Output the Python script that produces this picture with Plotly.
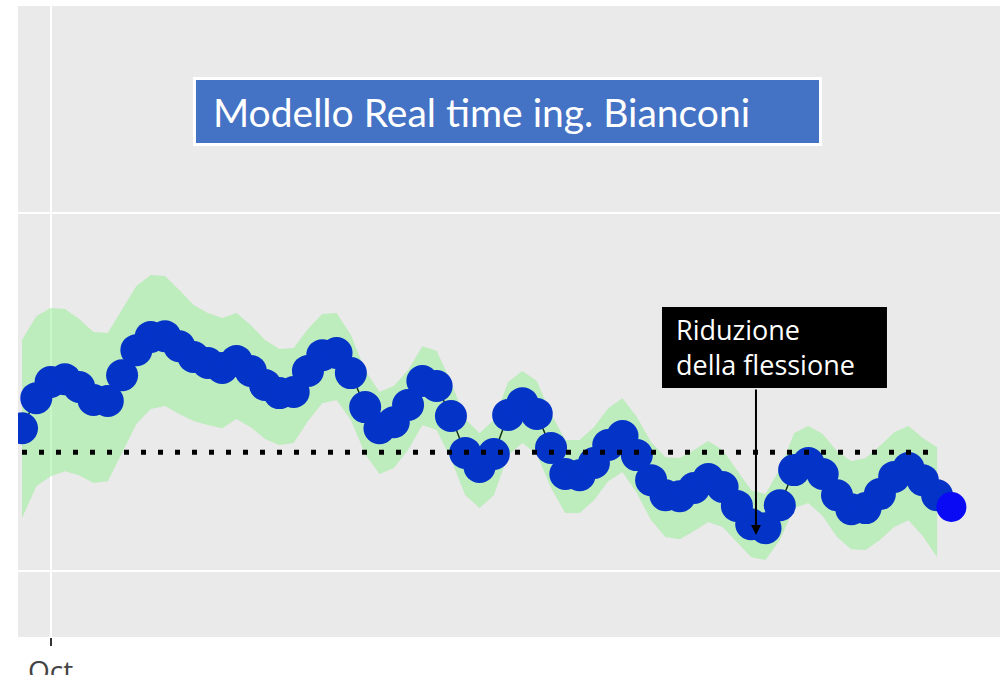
import pandas as pd
import plotly.graph_objects as go

# giorni di misura (giornalieri)
giorni = pd.date_range("2020-09-29", periods=66, freq="D")

# flessione misurata (modello real time)
flessione = [13.99, 14.83, 15.28, 15.36, 15.14, 14.78, 14.75, 15.47, 16.17, 16.54,
             16.56, 16.28, 15.98, 15.81, 15.67, 15.87, 15.59, 15.20, 14.97, 15.00,
             15.59, 16.03, 16.09, 15.53, 14.58, 13.99, 14.16, 14.64, 15.31, 15.17,
             14.33, 13.30, 12.91, 13.27, 14.36, 14.69, 14.39, 13.44, 12.71, 12.68,
             13.02, 13.52, 13.77, 13.24, 12.54, 12.12, 12.09, 12.32, 12.57, 12.35,
             11.82, 11.31, 11.20, 11.84, 12.82, 13.02, 12.71, 12.12, 11.73, 11.76,
             12.15, 12.63, 12.88, 12.54, 12.12]
ultimo = [11.79]

# banda di confidenza
banda_sup = [16.45, 17.12, 17.35, 17.32, 17.04, 16.68, 16.65, 17.32, 17.96, 18.27,
             18.24, 17.85, 17.43, 17.21, 17.07, 17.21, 16.87, 16.45, 16.20, 16.23,
             16.76, 17.18, 17.21, 16.59, 15.61, 15.00, 15.17, 15.61, 16.28, 16.15,
             15.28, 14.25, 13.85, 14.22, 15.28, 15.59, 15.31, 14.39, 13.66, 13.66,
             14.02, 14.55, 14.83, 14.30, 13.60, 13.18, 13.16, 13.38, 13.63, 13.38,
             12.82, 12.26, 12.15, 12.85, 13.85, 14.05, 13.83, 13.35, 13.07, 13.16,
             13.49, 13.88, 14.05, 13.72, 13.46]
banda_inf = [11.48, 12.37, 12.65, 12.79, 12.68, 12.46, 12.51, 13.30, 14.11, 14.53,
             14.61, 14.39, 14.19, 14.08, 13.99, 14.25, 14.02, 13.69, 13.52, 13.58,
             14.19, 14.69, 14.78, 14.22, 13.27, 12.71, 12.88, 13.38, 14.08, 13.94,
             13.13, 12.12, 11.76, 12.12, 13.24, 13.58, 13.27, 12.32, 11.62, 11.62,
             11.98, 12.51, 12.77, 12.18, 11.42, 10.95, 10.89, 11.12, 11.37, 11.23,
             10.81, 10.39, 10.31, 10.87, 11.76, 11.90, 11.54, 10.95, 10.61, 10.59,
             10.87, 11.23, 11.42, 10.98, 10.39]

soglia = 13.32

tick_date = ["2020-10-01"]
tick_text = ["Oct"]

n = len(flessione)
x_main = giorni[:n]

fig = go.Figure()
fig.add_trace(go.Scatter(x=x_main, y=banda_inf, mode="lines", line=dict(width=0),
                         hoverinfo="skip"))
fig.add_trace(go.Scatter(x=x_main, y=banda_sup, mode="lines", line=dict(width=0),
                         fill="tonexty", fillcolor="rgba(144,238,144,0.5)",
                         hoverinfo="skip"))
fig.add_trace(go.Scatter(x=x_main, y=flessione, mode="lines+markers",
                         line=dict(color="#143014", width=1.5),
                         marker=dict(size=32, color="#0433C8")))
fig.add_trace(go.Scatter(x=giorni[n:], y=ultimo, mode="markers",
                         marker=dict(size=30, color="#0A0AF5")))
fig.add_trace(go.Scatter(x=[x_main[0], x_main[-1]], y=[soglia, soglia], mode="lines",
                         line=dict(color="black", width=5, dash="5px,12px")))

# riquadri di testo
fig.add_shape(type="rect", xref="paper", yref="paper", x0=0.1797, x1=0.8172,
              y0=0.7805, y1=0.8851, fillcolor="#4472C4", line=dict(color="white", width=3))
fig.add_annotation(text="Modello Real time ing. Bianconi", xref="paper", yref="paper",
                   x=0.1966, y=0.832, xanchor="left", yanchor="middle", showarrow=False,
                   font=dict(family="Lato", size=39, color="white"))

fig.add_shape(type="rect", xref="paper", yref="paper", x0=0.6558, x1=0.8849,
              y0=0.3946, y1=0.5230, fillcolor="black", line=dict(width=0))
fig.add_annotation(text="Riduzione<br>della flessione", xref="paper", yref="paper",
                   x=0.6680, y=0.4588, xanchor="left", yanchor="middle", showarrow=False,
                   align="left", font=dict(family="Open Sans", size=27, color="white"))
fig.add_annotation(text="", xref="paper", yref="paper", x=0.7515, y=0.1616,
                   ax=0, ay=-147, showarrow=True, arrowhead=2, arrowsize=1,
                   arrowwidth=2, arrowcolor="black", standoff=0)

fig.update_layout(
    template="none",
    width=1000, height=675,
    margin=dict(l=18, r=0, t=6, b=38, pad=0),
    paper_bgcolor="white", plot_bgcolor="#EAEAEA",
    showlegend=False,
    xaxis=dict(range=["2020-09-28 17:17", "2020-12-06 09:36"],
               tickvals=tick_date, ticktext=tick_text,
               showgrid=True, gridcolor="white", gridwidth=2,
               ticks="outside", ticklen=8, tickwidth=2, tickcolor="#333",
               ticklabelstandoff=1,
               tickfont=dict(family="Open Sans", size=28, color="#444"),
               zeroline=False, showline=False, automargin=False),
    yaxis=dict(range=[8.16, 25.78], tick0=0, dtick=10, showticklabels=False,
               showgrid=True, gridcolor="white", gridwidth=2,
               zeroline=False, showline=False, automargin=False),
)

fig.write_html("out.html", config={"displayModeBar": False},
               post_script="document.body.style.margin='0';")
